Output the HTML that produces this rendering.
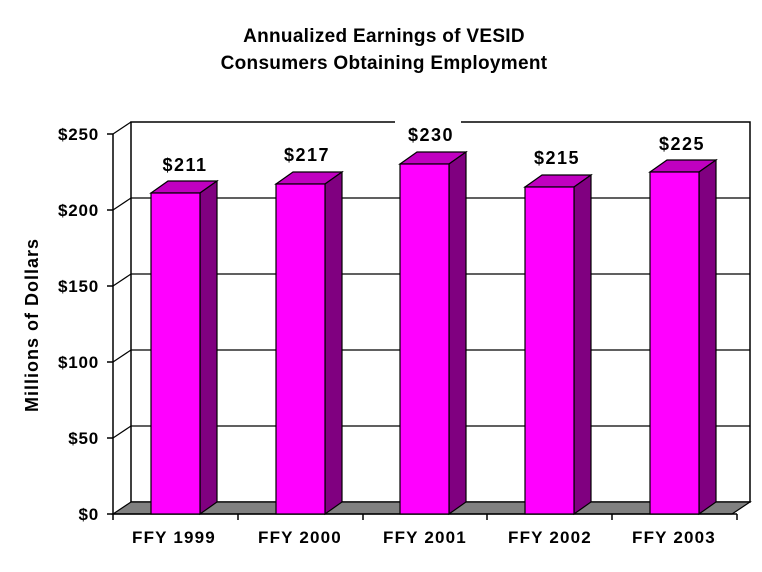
<!DOCTYPE html>
<html><head><style>body{margin:0;background:#fff}svg{display:block}</style></head><body>
<svg width="762" height="572" xmlns="http://www.w3.org/2000/svg" font-family="Liberation Sans, Arial, sans-serif" font-weight="bold">
<text x="384" y="42" font-size="19" letter-spacing="0.3" text-anchor="middle">Annualized Earnings of VESID</text>
<text x="384" y="69" font-size="19" letter-spacing="0.3" text-anchor="middle">Consumers Obtaining Employment</text>
<rect x="131" y="122" width="619" height="380" fill="#fff" stroke="#000" stroke-width="1.5"/>
<g stroke="#000" stroke-width="1.2">
<line x1="131" y1="198" x2="750" y2="198"/><line x1="131" y1="274" x2="750" y2="274"/>
<line x1="131" y1="350" x2="750" y2="350"/><line x1="131" y1="426" x2="750" y2="426"/>
<line x1="113" y1="134" x2="131" y2="122"/><line x1="113" y1="210" x2="131" y2="198"/>
<line x1="113" y1="286" x2="131" y2="274"/><line x1="113" y1="362" x2="131" y2="350"/>
<line x1="113" y1="438" x2="131" y2="426"/>
</g>
<polygon points="113,514 131,502 750,502 732,514" fill="#808080" stroke="#000" stroke-width="1.2"/>
<g stroke="#000" stroke-width="1.5">
<line x1="113" y1="134" x2="113" y2="514"/>
<line x1="107" y1="134" x2="113" y2="134"/><line x1="107" y1="210" x2="113" y2="210"/>
<line x1="107" y1="286" x2="113" y2="286"/><line x1="107" y1="362" x2="113" y2="362"/>
<line x1="107" y1="438" x2="113" y2="438"/><line x1="107" y1="514" x2="113" y2="514"/>
<line x1="113" y1="514" x2="737" y2="514"/>
<line x1="113" y1="514" x2="113" y2="520"/><line x1="238" y1="514" x2="238" y2="520"/>
<line x1="363" y1="514" x2="363" y2="520"/><line x1="487" y1="514" x2="487" y2="520"/>
<line x1="612" y1="514" x2="612" y2="520"/><line x1="737" y1="514" x2="737" y2="520"/>
</g>
<g font-size="17" letter-spacing="0.8" text-anchor="end">
<text x="99" y="140">$250</text><text x="99" y="216">$200</text><text x="99" y="292">$150</text>
<text x="99" y="368">$100</text><text x="99" y="444">$50</text><text x="99" y="520">$0</text>
</g>
<text transform="translate(38,325) rotate(-90)" font-size="18" letter-spacing="1" text-anchor="middle">Millions of Dollars</text>
<g stroke="#000" stroke-width="1.2">
<polygon points="151,193 168,181 217,181 200,193" fill="#c000c0"/><polygon points="200,193 217,181 217,502 200,514" fill="#800080"/><rect x="151" y="193" width="49" height="321" fill="#ff00ff"/>
<polygon points="276,184 293,172 342,172 325,184" fill="#c000c0"/><polygon points="325,184 342,172 342,502 325,514" fill="#800080"/><rect x="276" y="184" width="49" height="330" fill="#ff00ff"/>
<polygon points="400,164 417,152 466,152 449,164" fill="#c000c0"/><polygon points="449,164 466,152 466,502 449,514" fill="#800080"/><rect x="400" y="164" width="49" height="350" fill="#ff00ff"/>
<polygon points="525,187 542,175 591,175 574,187" fill="#c000c0"/><polygon points="574,187 591,175 591,502 574,514" fill="#800080"/><rect x="525" y="187" width="49" height="327" fill="#ff00ff"/>
<polygon points="650,172 667,160 716,160 699,172" fill="#c000c0"/><polygon points="699,172 716,160 716,502 699,514" fill="#800080"/><rect x="650" y="172" width="49" height="342" fill="#ff00ff"/>
</g>
<rect x="395" y="118" width="66" height="26" fill="#fff"/>
<g font-size="18" letter-spacing="1.5" text-anchor="middle">
<text x="185" y="171">$211</text><text x="307" y="161">$217</text><text x="431" y="141">$230</text>
<text x="557" y="164">$215</text><text x="682" y="150">$225</text>
</g>
<g font-size="17" letter-spacing="1.2" text-anchor="middle">
<text x="174" y="543">FFY 1999</text><text x="300" y="543">FFY 2000</text><text x="425" y="543">FFY 2001</text>
<text x="550" y="543">FFY 2002</text><text x="674" y="543">FFY 2003</text>
</g>
</svg>
</body></html>
